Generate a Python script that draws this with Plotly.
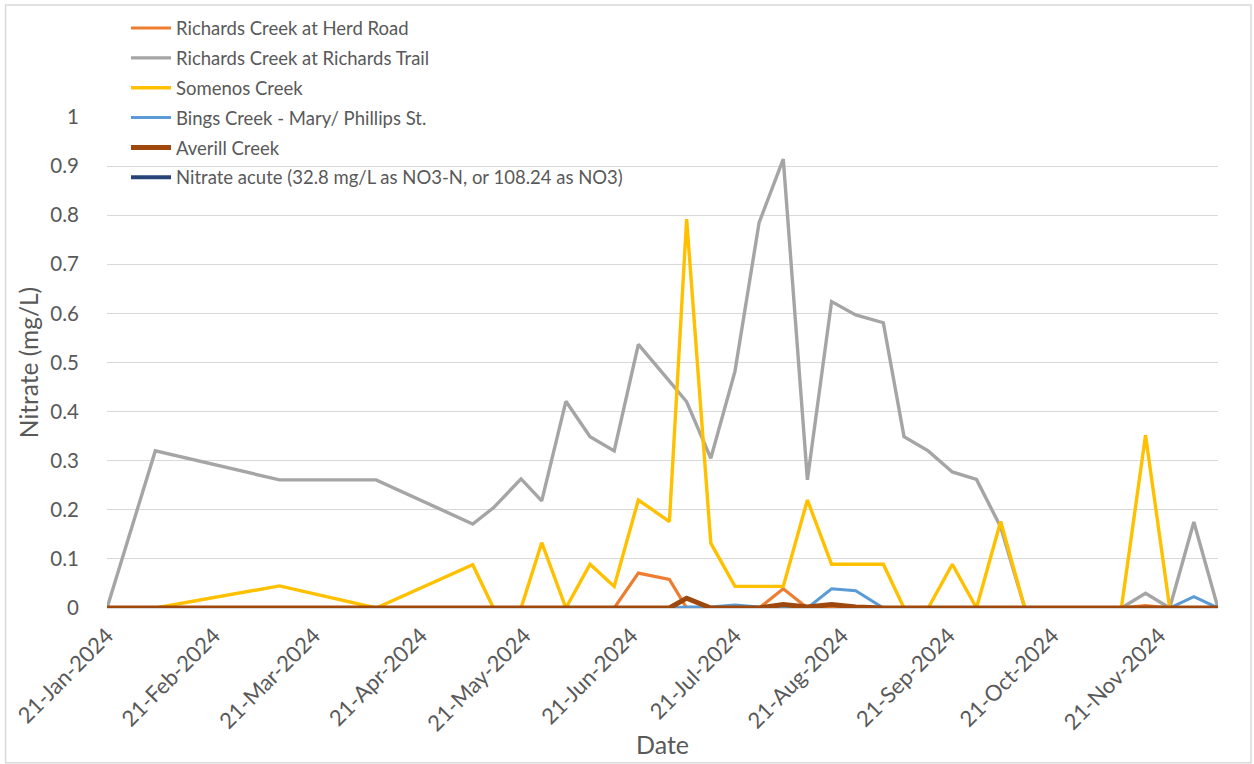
import plotly.graph_objects as go

dates = [
    "2024-01-21", "2024-02-04", "2024-03-11", "2024-04-08", "2024-05-06", "2024-05-12",
    "2024-05-20", "2024-05-26", "2024-06-02", "2024-06-09", "2024-06-16", "2024-06-23",
    "2024-07-02", "2024-07-07", "2024-07-14", "2024-07-21", "2024-07-28", "2024-08-04",
    "2024-08-11", "2024-08-18", "2024-08-25", "2024-09-02", "2024-09-08", "2024-09-15",
    "2024-09-22", "2024-09-29", "2024-10-06", "2024-10-13", "2024-10-20", "2024-10-27",
    "2024-11-03", "2024-11-10", "2024-11-17", "2024-11-24", "2024-12-01", "2024-12-08",
]

herd_road = [
    0, 0, 0, 0, 0, 0,
    0, 0, 0, 0, 0, 0.071,
    0.058, 0, 0, 0, 0, 0.039,
    0, 0.003, 0, 0, 0, 0,
    0, 0, 0, 0, 0, 0,
    0, 0, 0.005, 0, 0, 0,
]

richards_trail = [
    0, 0.32, 0.261, 0.261, 0.171, 0.204,
    0.263, 0.218, 0.421, 0.349, 0.32, 0.537,
    0.462, 0.42, 0.305, 0.482, 0.785, 0.914,
    0.261, 0.624, 0.597, 0.581, 0.349, 0.32,
    0.277, 0.262, 0.165, 0, 0, 0,
    0, 0, 0.03, 0, 0.175, 0,
]

somenos = [
    0, 0, 0.045, 0, 0.088, 0,
    0, 0.133, 0, 0.089, 0.044, 0.22,
    0.176, 0.792, 0.132, 0.044, 0.044, 0.044,
    0.22, 0.089, 0.089, 0.089, 0, 0,
    0.089, 0, 0.176, 0, 0, 0,
    0, 0, 0.352, 0, 0, 0,
]

bings = [
    0, 0, 0, 0, 0, 0,
    0, 0, 0, 0, 0, 0,
    0, 0.002, 0.002, 0.006, 0.002, 0,
    0, 0.039, 0.035, 0, 0, 0,
    0, 0, 0, 0, 0, 0,
    0, 0, 0, 0, 0.023, 0,
]

averill = [
    0, 0, 0, 0, 0, 0,
    0, 0, 0, 0, 0, 0,
    0, 0.02, 0, 0, 0, 0.007,
    0.002, 0.007, 0.002, 0, 0, 0,
    0, 0, 0, 0, 0, 0,
    0, 0, 0, 0, 0, 0,
]

nitrate_acute = [32.8] * len(dates)

series_names = [
    "Richards Creek at Herd Road",
    "Richards Creek at Richards Trail",
    "Somenos Creek",
    "Bings Creek - Mary/ Phillips St.",
    "Averill Creek",
    "Nitrate acute (32.8 mg/L as NO3-N, or 108.24 as NO3)",
]
series_values = [herd_road, richards_trail, somenos, bings, averill, nitrate_acute]
series_colors = ["#ED7D31", "#A5A5A5", "#FFC000", "#5B9BD5", "#9E480E", "#264478"]
series_widths = [3.2, 3.4, 3.4, 3, 5, 4]

tick_dates = [
    "2024-01-21", "2024-02-21", "2024-03-21", "2024-04-21", "2024-05-21", "2024-06-21",
    "2024-07-21", "2024-08-21", "2024-09-21", "2024-10-21", "2024-11-21",
]
tick_labels = [
    "21-Jan-2024", "21-Feb-2024", "21-Mar-2024", "21-Apr-2024", "21-May-2024",
    "21-Jun-2024", "21-Jul-2024", "21-Aug-2024", "21-Sep-2024", "21-Oct-2024",
    "21-Nov-2024",
]

FONT = "Lato"
TXT = "#595959"

fig = go.Figure()
for i, (name, vals, col, w) in enumerate(zip(series_names, series_values, series_colors, series_widths)):
    fig.add_trace(go.Scatter(
        x=dates, y=vals, name=name, mode="lines", legendgroup=f"g{i}",
        line=dict(color=col, width=w),
    ))

fig.update_layout(
    width=1254, height=764,
    margin=dict(l=107, r=36, t=117, b=156, autoexpand=False),
    paper_bgcolor="white", plot_bgcolor="white",
    font=dict(family=FONT, color=TXT, size=18),
    showlegend=True,
    legend=dict(
        x=0.0171, y=1.219, xanchor="left", yanchor="top",
        bgcolor="rgba(0,0,0,0)", font=dict(family=FONT, size=18.5, color=TXT),
        itemwidth=40, tracegroupgap=2.8,
    ),
    xaxis=dict(
        type="date", range=["2024-01-21", "2024-12-08"], automargin=False,
        tickvals=tick_dates, ticktext=tick_labels, tickangle=-45,
        showgrid=False, showline=True, linecolor="#D9D9D9", linewidth=1,
        ticks="outside", ticklen=5, tickcolor="rgba(0,0,0,0)",
        tickfont=dict(family=FONT, size=22, color=TXT),
        title=dict(text="Date", font=dict(family=FONT, size=25, color=TXT), standoff=1),
        zeroline=False,
    ),
    yaxis=dict(
        range=[0, 1], dtick=0.1, tick0=0, automargin=False,
        showgrid=True, gridcolor="#D9D9D9", gridwidth=1,
        zeroline=False, showline=False,
        ticks="outside", ticklen=23, tickcolor="rgba(0,0,0,0)",
        tickfont=dict(family=FONT, size=20.5, color=TXT),
        title=dict(text="Nitrate (mg/L)", font=dict(family=FONT, size=24.5, color=TXT), standoff=4),
    ),
    shapes=[dict(
        type="rect", xref="paper", yref="paper",
        x0=-0.0913, x1=1.0297, y0=-0.3153, y1=1.2281,
        line=dict(color="#D9D9D9", width=1.5), fillcolor="rgba(0,0,0,0)", layer="below",
    )],
)

fig.write_html(
    "out.html",
    config={"displayModeBar": False},
    post_script="document.body.style.margin='0';document.documentElement.style.overflow='hidden';",
)
